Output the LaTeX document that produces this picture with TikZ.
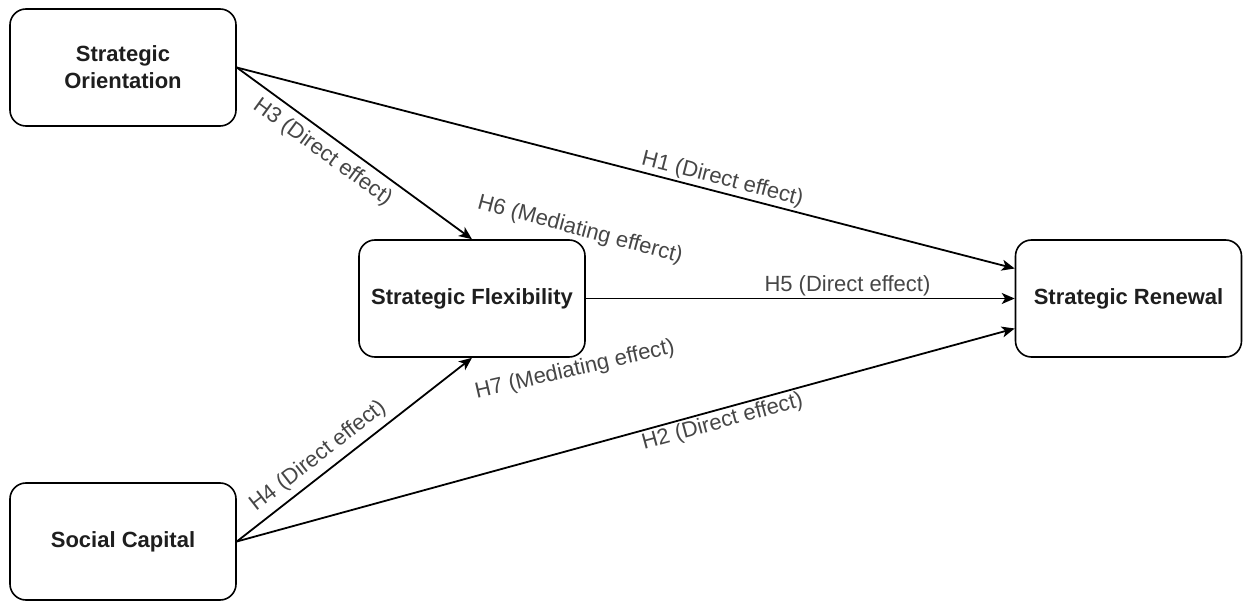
\documentclass[tikz,border=0pt]{standalone}
\usepackage{fontspec}
\setmainfont{Liberation Sans}
\usetikzlibrary{arrows.meta}
\definecolor{boxtext}{RGB}{30,30,30}
\definecolor{lbl}{RGB}{70,70,70}
\begin{document}
\begin{tikzpicture}[x=1pt,y=-1pt,
  construct/.style={draw, line width=1.6pt, rounded corners=16pt, minimum width=226pt, minimum height=117pt, align=center, font=\fontsize{22}{27}\selectfont\bfseries, text=boxtext, inner sep=0pt},
  link/.style={line width=1.8pt, -{Stealth[length=13pt,width=11pt,inset=3.5pt]}},
  lab/.style={font=\fontsize{22}{26}\selectfont, text=lbl, inner sep=2pt}]
\useasboundingbox (0,0) rectangle (1250,601);
\node[construct] (so) at (123,67.5) {Strategic\\Orientation};
\node[construct] (sf) at (472,298.5) {Strategic Flexibility};
\node[construct] (sc) at (123,541.5) {Social Capital};
\node[construct] (sr) at (1128.5,298.5) {Strategic Renewal};
\draw[link] (so.east) -- ([yshift=30pt]sr.west) node[lab,sloped,above,pos=0.62] (h1) {H1 (Direct effect)};
\draw[link] (so.east) -- (sf.north) node[lab,sloped,below=5pt,pos=0.41] (h3) {H3 (Direct effect)};
\draw[link] (sf.east) -- (sr.west) node[lab,above,pos=0.61] (h5) {H5 (Direct effect)};
\draw[link] (sc.east) -- (sf.south) node[lab,sloped,above=4pt,pos=0.39] (h4) {H4 (Direct effect)};
\draw[link] (sc.east) -- ([yshift=-30pt]sr.west) node[lab,sloped,below,pos=0.62] (h2) {H2 (Direct effect)};
\node[lab,rotate=-15] (h6) at (580,230) {H6 (Mediating efferct)};
\node[lab,rotate=13] (h7) at (575,370) {H7 (Mediating effect)};
\end{tikzpicture}
\end{document}
